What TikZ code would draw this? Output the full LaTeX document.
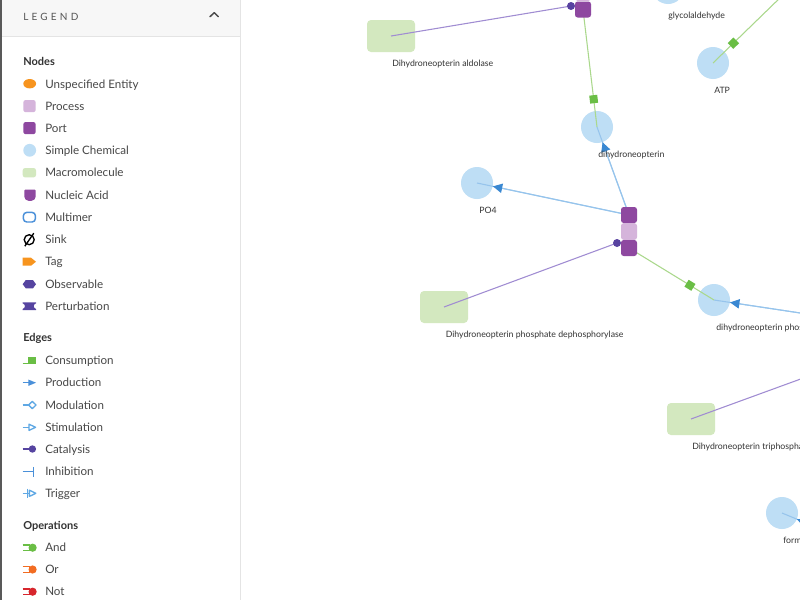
\documentclass[tikz,border=0pt]{standalone}
\usepackage{fontspec}
\setmainfont{Lato}
\usetikzlibrary{arrows.meta,shapes.geometric,decorations.markings,calc}
\pgfdeclarelayer{bglayer}
\pgfdeclarelayer{edgelayer}
\pgfsetlayers{bglayer,edgelayer,main}
\definecolor{macroc}{RGB}{211,232,191}
\definecolor{chemc}{RGB}{190,222,245}
\definecolor{portc}{RGB}{142,72,160}
\definecolor{procc}{RGB}{213,180,219}
\definecolor{catl}{RGB}{160,140,210}
\definecolor{catd}{RGB}{88,66,160}
\definecolor{consl}{RGB}{170,216,140}
\definecolor{consm}{RGB}{106,190,69}
\definecolor{prodl}{RGB}{150,196,236}
\definecolor{proda}{RGB}{58,136,210}
\definecolor{orangec}{RGB}{247,148,30}
\definecolor{bluec}{RGB}{74,144,217}
\definecolor{lbluec}{RGB}{95,168,228}
\definecolor{indigoc}{RGB}{86,68,160}
\definecolor{orc}{RGB}{242,108,34}
\definecolor{notc}{RGB}{215,38,45}
\definecolor{txtc}{RGB}{51,51,51}
\definecolor{headc}{RGB}{247,247,247}
\definecolor{sepc}{RGB}{228,228,228}
\definecolor{titc}{RGB}{85,85,85}
\tikzset{
  chembox/.style={circle, fill=chemc, minimum size=24pt, inner sep=0pt},
  macrobox/.style={rectangle, rounded corners=3pt, fill=macroc, minimum width=36pt, minimum height=24pt, inner sep=0pt},
  portbox/.style={rectangle, rounded corners=2pt, fill=portc, minimum width=12pt, minimum height=12pt, inner sep=0pt},
  procbox/.style={rectangle, rounded corners=2pt, fill=procc, minimum width=12pt, minimum height=12.5pt, inner sep=0pt},
  catdot/.style={circle, fill=catd, minimum size=6pt, inner sep=0pt},
  lbl/.style={anchor=west, inner sep=0pt, text=txtc, font=\fontsize{6.55}{8}\selectfont, text height=4.8pt, text depth=0pt},
  legtxt/.style={anchor=west, inner sep=0pt, text=txtc!90!white, font=\fontsize{8.7}{11}\selectfont, text height=6.3pt, text depth=0pt},
  leghead/.style={anchor=west, inner sep=0pt, text=txtc, font=\fontsize{8.25}{10}\selectfont\bfseries, text height=6pt, text depth=0pt},
  catedge/.style={draw=catl, line width=0.8pt},
  prodedge/.style={draw=prodl, line width=0.8pt},
  prodtip/.style={draw=prodl, line width=0.8pt, -{Triangle[length=7pt,width=7pt,color=proda]}},
  consedge/.style={draw=consl, line width=0.8pt, postaction={decorate},
    decoration={markings, mark=at position -21pt with {\fill[consm] (-3pt,-3pt) rectangle (3pt,3pt);}}},
  icl/.style={line width=1.1pt},
}
\begin{document}
\begin{tikzpicture}[x=0.75pt,y=-0.75pt]
\useasboundingbox (0,0) rectangle (800,600);

% ---------------- graph: entities ----------------
\begin{pgfonlayer}{bglayer}
\fill[white] (0,0) rectangle (800,600);
\node[macrobox] (ald) at (391,36) {};
\node[macrobox] (dep) at (444,307) {};
\node[macrobox] (trip) at (691,419) {};
\node[chembox] (gly) at (668,-12) {};
\node[chembox] (atp) at (713,63) {};
\node[chembox] (dhn) at (597,127) {};
\node[chembox] (po4) at (477,183) {};
\node[chembox] (dhnp) at (714,300) {};
\node[chembox] (form) at (782,513) {};
\end{pgfonlayer}

\node[lbl] (aldL) at (392,63) {Dihydroneopterin aldolase};
\node[lbl] (depL) at (445.5,334) {Dihydroneopterin phosphate dephosphorylase};
\node[lbl] (tripL) at (692,446) {Dihydroneopterin triphosphatase};
\node[lbl] (glyL) at (668,15) {glycolaldehyde};
\node[lbl] (atpL) at (714,90) {ATP};
\node[lbl] (dhnL) at (598,154) {dihydroneopterin};
\node[lbl] (po4L) at (479,210) {PO4};
\node[lbl] (dhnpL) at (716,327) {dihydroneopterin phosphate};
\node[lbl] (formL) at (783,540) {formate};

% processes and ports
\node[portbox] (p1t) at (583,-24.5) {};
\node[procbox] (p1) at (583,-7.5) {};
\node[portbox] (p1b) at (583,9.5) {};
\node[portbox] (p2t) at (629,215) {};
\node[procbox] (p2) at (629,231.5) {};
\node[portbox] (p2b) at (629,248) {};

\coordinate (offA) at (860,322);
\coordinate (offB) at (850,361);
\coordinate (offC) at (840,537);
\coordinate (offD) at (820,-41);

% ---------------- graph: edges ----------------
\begin{pgfonlayer}{edgelayer}
\draw[catedge] (ald.center) -- (571,6) coordinate (c1);
\draw[catedge] (dep.center) -- (617,243) coordinate (c2);
\draw[catedge] (trip.center) -- (offB);
\draw[consedge] (p1b.center) -- (dhn.center);
\draw[consedge] (p2b.center) -- (dhnp.center);
\draw[consedge] (offD) -- (atp.center);
\draw[prodedge] (p2t.center) -- (dhn.center);
\draw[prodtip] (p2t.center) -- (dhn);
\draw[prodedge] (p2t.center) -- (po4.center);
\draw[prodtip] (p2t.center) -- (po4);
\draw[prodedge] (offA) -- (dhnp.center);
\draw[prodtip] (offA) -- (dhnp);
\draw[prodedge] (offC) -- (form.center);
\draw[prodtip] (offC) -- (form);
\end{pgfonlayer}
\node[catdot] (c1d) at (c1) {};
\node[catdot] (c2d) at (c2) {};

% ---------------- legend panel ----------------
\fill[white] (0,0) rectangle (240,600);
\fill[headc] (0,0) rectangle (240,36);
\draw[sepc, line width=0.75pt] (0,36) -- (240,36);
\draw[sepc, line width=0.75pt] (240,0) -- (240,600);
\draw[black!65, line width=1.2pt] (0.8,0) -- (0.8,600);
\node[anchor=west, inner sep=0pt, text=titc, font=\fontsize{7.5}{9}\selectfont\addfontfeatures{LetterSpace=32}, text height=5.4pt, text depth=0pt] (ltitle) at (23,17.3) {LEGEND};
\draw[black!70, line width=1.1pt, line cap=round, line join=round] (210,16.7) -- (214.3,12.6) -- (218.4,16.7);

\node[leghead] (hN) at (23,61) {Nodes};
\node[legtxt] (t1) at (45,84) {Unspecified Entity};
\node[legtxt] (t2) at (45,106) {Process};
\node[legtxt] (t3) at (45,128) {Port};
\node[legtxt] (t4) at (45,150.3) {Simple Chemical};
\node[legtxt] (t5) at (45,172.7) {Macromolecule};
\node[legtxt] (t6) at (45,195) {Nucleic Acid};
\node[legtxt] (t7) at (45,217) {Multimer};
\node[legtxt] (t8) at (45,239.5) {Sink};
\node[legtxt] (t9) at (45,261.7) {Tag};
\node[legtxt] (t10) at (45,284.2) {Observable};
\node[legtxt] (t11) at (45,306.2) {Perturbation};

\node[leghead] (hE) at (23,337.5) {Edges};
\node[legtxt] (e1) at (45,360.5) {Consumption};
\node[legtxt] (e2) at (45,382.7) {Production};
\node[legtxt] (e3) at (45,405) {Modulation};
\node[legtxt] (e4) at (45,427.3) {Stimulation};
\node[legtxt] (e5) at (45,449) {Catalysis};
\node[legtxt] (e6) at (45,471.7) {Inhibition};
\node[legtxt] (e7) at (45,493.3) {Trigger};

\node[leghead] (hO) at (23,525) {Operations};
\node[legtxt] (o1) at (45,547.7) {And};
\node[legtxt] (o2) at (45,569.5) {Or};
\node[legtxt] (o3) at (45,591.7) {Not};

% node icons
\fill[orangec] (29.7,83.7) ellipse [x radius=6.4, y radius=4.7];
\fill[procc, rounded corners=1.8pt] (23.3,100) rectangle (35.7,112.2);
\fill[portc, rounded corners=1.8pt] (23.3,122) rectangle (35.7,134.2);
\fill[chemc] (29.7,150.3) circle [radius=6.4];
\fill[macroc, rounded corners=1.8pt] (22.7,168) rectangle (36,177.4);
\fill[portc] (24.3,189.5) [rounded corners=0.8pt] -- (35.7,189.5) [rounded corners=3.2pt] -- (35.7,200.8) -- (24.3,200.8) [rounded corners=0.8pt] -- cycle;
\draw[bluec, line width=1.1pt, rounded corners=2.5pt] (23.4,212.4) rectangle (35.4,222);
\draw[black, line width=1pt] (29.2,239.7) circle [radius=5];
\draw[black, line width=1pt] (24.8,246.2) -- (33.8,233.2);
\fill[orangec] (22.7,257.7) -- (31,257.7) -- (36,261.7) -- (31,265.7) -- (22.7,265.7) -- cycle;
\fill[indigoc] (22.7,284.2) -- (25.8,280) -- (32.9,280) -- (36,284.2) -- (32.9,288.4) -- (25.8,288.4) -- cycle;
\fill[indigoc] (22.7,302.3) -- (36,302.3) -- (36,303.3) .. controls (33,304.5) and (33,307.8) .. (36,309) -- (36,310) -- (22.7,310) -- (22.7,309) .. controls (25.7,307.8) and (25.7,304.5) .. (22.7,303.3) -- cycle;

% edge icons
\draw[consm, icl] (22.7,363.3) -- (36,363.3);
\fill[consm] (28.3,357) rectangle (35.7,363.3);
\draw[bluec, icl] (22.7,382.7) -- (30,382.7);
\fill[bluec] (28.3,379.5) -- (36,382.7) -- (28.3,385.9) -- cycle;
\draw[lbluec, icl] (22.7,405) -- (28.6,405);
\draw[lbluec, line width=1pt, fill=white, line join=round] (28.6,405) -- (32.3,401.4) -- (36,405) -- (32.3,408.6) -- cycle;
\draw[lbluec, icl] (22.7,427.3) -- (29,427.3);
\draw[lbluec, line width=1pt, fill=white, line join=round] (29,424.2) -- (35.6,427.3) -- (29,430.4) -- cycle;
\draw[indigoc, icl] (22.7,449) -- (30,449);
\fill[indigoc] (32.4,449) circle [radius=3.7];
\draw[bluec, icl] (22.7,471.7) -- (33.3,471.7);
\draw[bluec, icl] (33.3,466.9) -- (33.3,476.5);
\draw[lbluec, icl] (22.7,493.3) -- (29,493.3);
\draw[lbluec, icl] (27.3,488.6) -- (27.3,498);
\draw[lbluec, line width=1pt, fill=white, line join=round] (29.4,490.2) -- (35.8,493.3) -- (29.4,496.4) -- cycle;

% operation icons
\draw[consm, icl] (22.7,544.8) -- (29.5,544.8) -- (29.5,550.6) -- (22.7,550.6);
\fill[consm] (32.6,547.7) circle [radius=4.1];
\draw[orc, icl] (22.7,566.6) -- (29.5,566.6) -- (29.5,572.4) -- (22.7,572.4);
\fill[orc] (32.6,569.5) circle [radius=4.1];
\draw[notc, icl] (22.7,588.8) -- (29.5,588.8) -- (29.5,594.6) -- (22.7,594.6);
\fill[notc] (32.6,591.7) circle [radius=4.1];
\end{tikzpicture}
\end{document}
